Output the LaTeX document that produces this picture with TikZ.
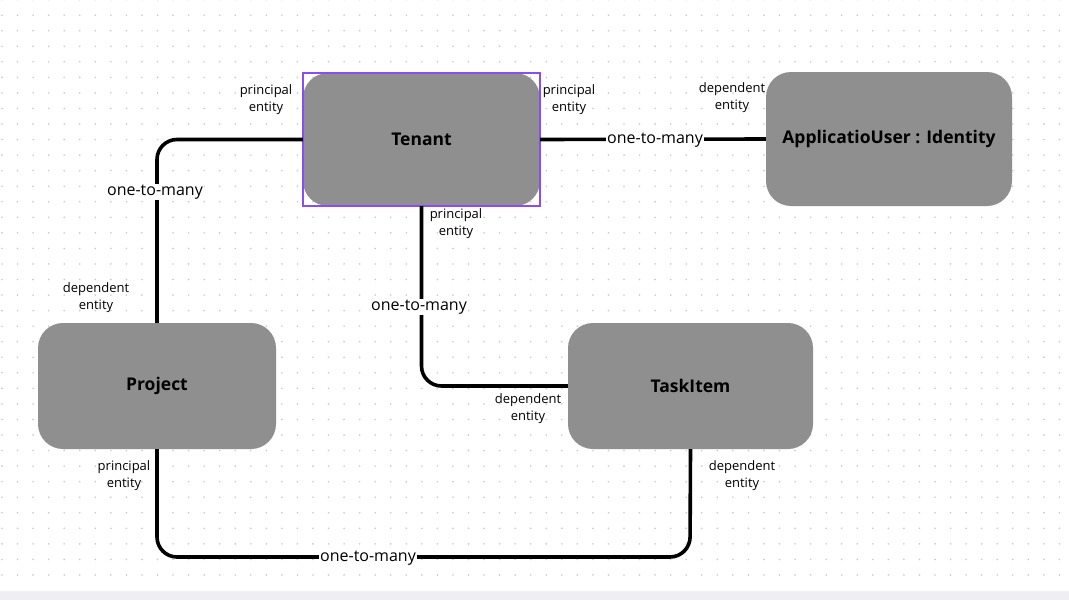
\documentclass[tikz,border=0pt]{standalone}
\usepackage{fontspec}
\setmainfont{Open Sans}
\definecolor{boxgray}{HTML}{8F8F8F}
\definecolor{dotc}{HTML}{C8C8D6}
\definecolor{selc}{HTML}{8B4CF6}
\definecolor{stripc}{HTML}{EEEEF3}
\begin{document}
\begin{tikzpicture}[x=1pt,y=-1pt,
  entity/.style={fill=boxgray,rounded corners=25pt,inner sep=0pt,font=\fontsize{17.5}{20}\selectfont\bfseries,text=black},
  conn/.style={line width=3.6pt,rounded corners=20pt},
  rel/.style={fill=white,inner sep=1pt,font=\fontsize{16}{18}\selectfont},
  role/.style={align=center,inner sep=0pt,font=\fontsize{13}{17}\selectfont}]
\useasboundingbox (0,0) rectangle (1069,600);
\fill[white] (0,0) rectangle (1069,600);
\fill[stripc] (0,591) rectangle (1069,600);
\foreach \i in {0,...,68}{
  \foreach \j in {0,...,37}{
    \fill[dotc] (2+15.55*\i,-0.4+15.55*\j) circle (0.9pt);
  }
}
% entities
\node[entity,minimum width=237pt,minimum height=133pt] (tenant) at (421.5,139.5) {Tenant};
\node[entity,minimum width=246pt,minimum height=134pt] (appuser) at (889,139) {ApplicatioUser : Identity};
\node[entity,minimum width=238pt,minimum height=126pt] (project) at (157,386) {Project};
\node[entity,minimum width=245pt,minimum height=126pt] (task) at (690.5,386) {TaskItem};
% selection frame
\draw[selc,line width=1.5pt] (tenant.south west) rectangle (tenant.north east);
% connectors
\coordinate (b1) at (157,557);
\coordinate (b2) at (690,557);
\draw[conn] (tenant.west) -| (project.north);
\draw[conn] (tenant.east) -- (appuser.west);
\draw[conn] (tenant.south) |- (task.west);
\draw[conn] (project.south) -- (b1) -- (b2) -- (task.south);
% relationship labels
\node[rel] (r1) at (155,192) {one-to-many};
\node[rel] (r2) at (655,140) {one-to-many};
\node[rel] (r3) at (419,307) {one-to-many};
\node[rel] (r4) at (368,558) {one-to-many};
% role labels
\node[role] (p1) at (266,100) {principal\\entity};
\node[role] (p2) at (569,100) {principal\\entity};
\node[role] (p3) at (456,224) {principal\\entity};
\node[role] (d1) at (732,98) {dependent\\entity};
\node[role] (d2) at (96,298) {dependent\\entity};
\node[role] (d3) at (528,409) {dependent\\entity};
\node[role] (p4) at (124,476) {principal\\entity};
\node[role] (d4) at (742,476) {dependent\\entity};
\end{tikzpicture}
\end{document}
